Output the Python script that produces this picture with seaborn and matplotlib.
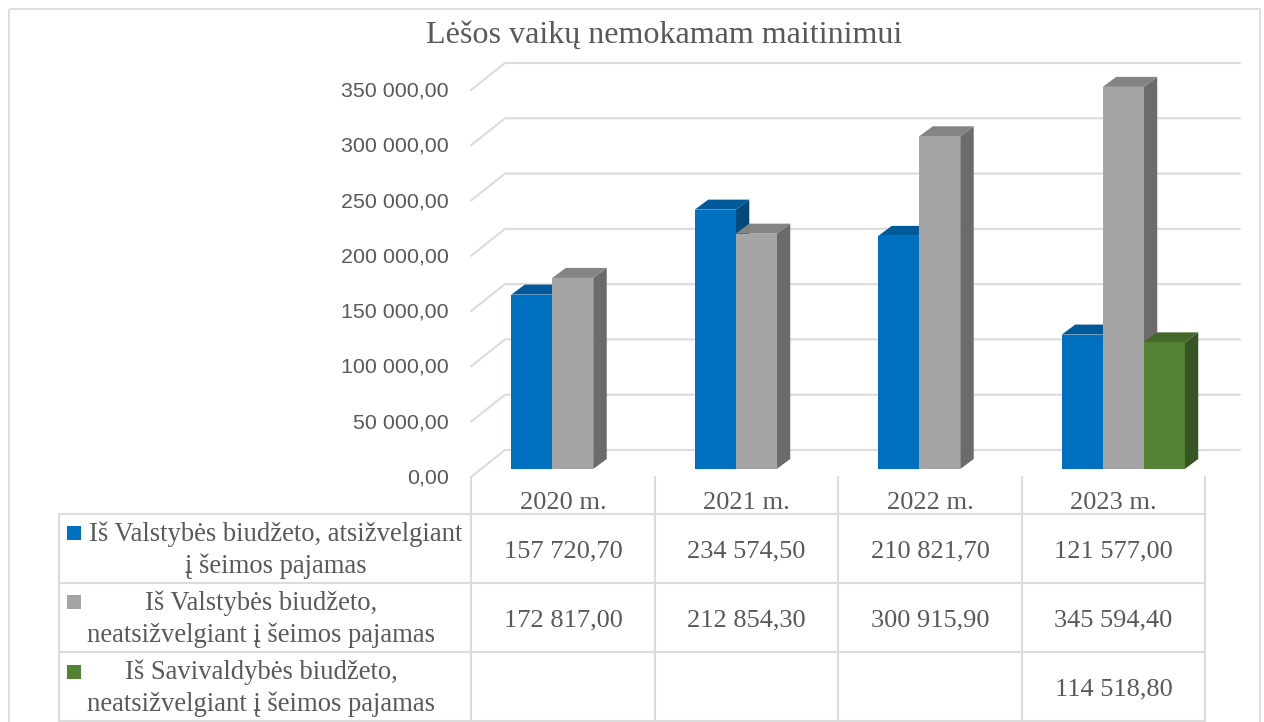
import numpy as np
import pandas as pd
import matplotlib.pyplot as plt
import seaborn as sns
from matplotlib.patches import Polygon, Rectangle

W, H = 1264, 722

# data
years = ['2020 m.', '2021 m.', '2022 m.', '2023 m.']
valst_pagal_pajamas = [157720.70, 234574.50, 210821.70, 121577.00]
valst_be_pajamu = [172817.00, 212854.30, 300915.90, 345594.40]
saviv_be_pajamu = [np.nan, np.nan, np.nan, 114518.80]
series_names = ['valst_pagal', 'valst_be', 'saviv_be']
series_labels = [
    ['Iš Valstybės biudžeto, atsižvelgiant', 'į šeimos pajamas'],
    ['Iš Valstybės biudžeto,', 'neatsižvelgiant į šeimos pajamas'],
    ['Iš Savivaldybės biudžeto,', 'neatsižvelgiant į šeimos pajamas'],
]
colors = ['#0070C0', '#A5A5A5', '#548235']
y_ticks = [0, 50000, 100000, 150000, 200000, 250000, 300000, 350000]
title = 'Lėšos vaikų nemokamam maitinimui'

TXT = '#595959'
LINE = '#DCDCDC'
SERIF = 'Liberation Serif'
SANS = 'Liberation Sans'


def fmt(v):
    return f'{v:,.2f}'.replace(',', ' ').replace('.', ',')


def axes_px(fig, x0, y_top, x1, y_bottom, **kw):
    return fig.add_axes([x0 / W, 1 - y_bottom / H, (x1 - x0) / W, (y_bottom - y_top) / H], **kw)


sns.set_theme(style='white')
fig = plt.figure(figsize=(W / 100, H / 100), dpi=100, facecolor='white')

# pixel layer for frame, gridlines and table
bg = fig.add_axes([0, 0, 1, 1], zorder=0)
bg.set_xlim(0, W)
bg.set_ylim(H, 0)
bg.axis('off')

bg.add_patch(Rectangle((9, 9), 1251, 730, fill=False, ec=LINE, lw=1.3))

# front plane: carries the value axis
front = axes_px(fig, 471, 89, 1205, 476, zorder=1)
front.patch.set_alpha(0)
front.set_ylim(0, 350000)
front.set_xlim(-0.5, 3.5)
front.set_xticks([])
front.set_yticks(y_ticks)
front.set_yticklabels([fmt(v) for v in y_ticks], fontsize=15.4, color=TXT, family=SANS)
front.tick_params(axis='y', length=0, pad=16)
sns.despine(ax=front, left=True, bottom=True)

for v in y_ticks:
    y_front = 477 - v * 387 / 350000
    bg.plot([471, 505, 1240], [y_front, y_front - 27, y_front - 27], color=LINE, lw=1.5)

# table lines
for y in [514, 583, 652, 721]:
    bg.plot([59, 1205], [y, y], color=LINE, lw=1.5)
bg.plot([59, 59], [514, 722], color=LINE, lw=1.5)
for x in [471, 655, 838, 1022, 1205]:
    bg.plot([x, x], [477, 722], color=LINE, lw=1.5)

# bars, shifted into the depth of the floor
df = pd.DataFrame({
    'year': years * 3,
    'series': np.repeat(series_names, len(years)),
    'value': valst_pagal_pajamas + valst_be_pajamu + saviv_be_pajamu,
})
ax = axes_px(fig, 481, 82, 1215, 469, zorder=2)
ax.patch.set_alpha(0)
sns.barplot(data=df, x='year', y='value', hue='series', palette=colors, width=0.67,
            saturation=1, legend=False, ax=ax)
ax.set_xlim(-0.5, 3.5)
ax.set_ylim(0, 350000)
ax.axis('off')

# 3D look: side and top faces worked out from each bar
dx = 13.5 * 4 / 734
dy = 10 * 350000 / 387
bars = [p for p in ax.patches if np.isfinite(p.get_height()) and p.get_height() > 0]
bars.sort(key=lambda p: p.get_x())
for i, p in enumerate(bars):
    x0, x1, h = p.get_x(), p.get_x() + p.get_width(), p.get_height()
    rgb = np.array(p.get_facecolor()[:3])
    p.set_edgecolor('none')
    p.set_zorder(2 * i + 3)
    ax.add_patch(Polygon([(x1, 0), (x1 + dx, dy), (x1 + dx, h + dy), (x1, h)], fc=rgb * 0.65,
                         ec='none', zorder=2 * i + 2, clip_on=False))
    ax.add_patch(Polygon([(x0, h), (x0 + dx, h + dy), (x1 + dx, h + dy), (x1, h)], fc=rgb * 0.8,
                         ec='none', zorder=2 * i + 2, clip_on=False))

# title and table text
bg.text(664.5, 35, title, family=SERIF, fontsize=23.1, color=TXT, ha='center', va='center')

col_centers = [563, 746.5, 930, 1113.5]
for cx, yr in zip(col_centers, years):
    bg.text(cx, 503, yr, family=SERIF, fontsize=19, color=TXT, ha='center', va='center')

row_values = [valst_pagal_pajamas, valst_be_pajamu, saviv_be_pajamu]
row_y = [549, 618, 687]
key_y = [526, 595, 665]
label_cx = [275.5, 261, 261]
for k in range(3):
    bg.add_patch(Rectangle((67, key_y[k]), 14, 14, fc=colors[k], ec='none'))
    for j, line in enumerate(series_labels[k]):
        bg.text(label_cx[k], row_y[k] - 15 + 32 * j, line, family=SERIF, fontsize=19.2, color=TXT,
                ha='center', va='center')
    for cx, v in zip(col_centers, row_values[k]):
        if np.isfinite(v):
            bg.text(cx, row_y[k] + 2, fmt(v), family=SERIF, fontsize=19, color=TXT,
                    ha='center', va='center')

fig.savefig('out.png', dpi=100)
